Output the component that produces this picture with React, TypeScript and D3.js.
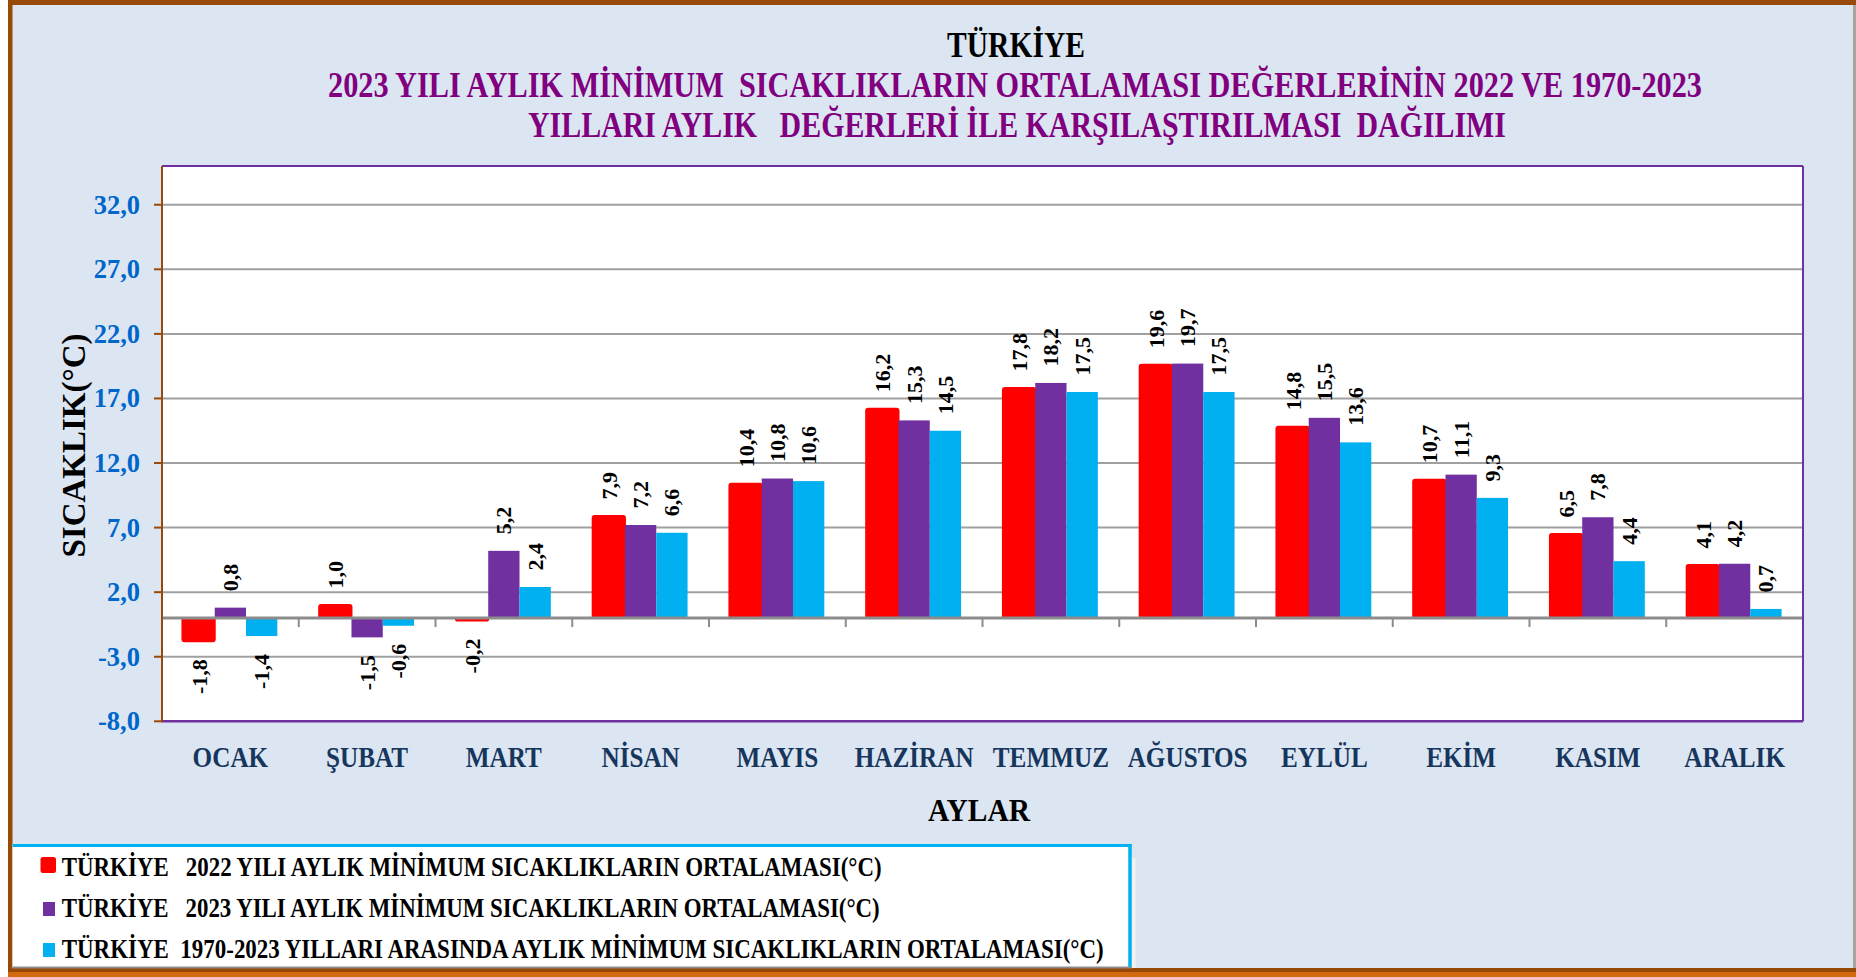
import React from "react";
import * as d3 from "d3";

const months = ["OCAK", "ŞUBAT", "MART", "NİSAN", "MAYIS", "HAZİRAN", "TEMMUZ", "AĞUSTOS", "EYLÜL", "EKİM", "KASIM", "ARALIK"];
const min2022 = [-1.8, 1.0, -0.2, 7.9, 10.4, 16.2, 17.8, 19.6, 14.8, 10.7, 6.5, 4.1];
const min2023 = [0.8, -1.5, 5.2, 7.2, 10.8, 15.3, 18.2, 19.7, 15.5, 11.1, 7.8, 4.2];
const min1970 = [-1.4, -0.6, 2.4, 6.6, 10.6, 14.5, 17.5, 17.5, 13.6, 9.3, 4.4, 0.7];
const yTicks = [-8, -3, 2, 7, 12, 17, 22, 27, 32];
const seriesKeys = ["s2022", "s2023", "s1970"];
const seriesColors = ["#FF0000", "#7030A0", "#00B0F0"];
const legendLabels = [
  "TÜRKİYE   2022 YILI AYLIK MİNİMUM SICAKLIKLARIN ORTALAMASI(°C)",
  "TÜRKİYE   2023 YILI AYLIK MİNİMUM SICAKLIKLARIN ORTALAMASI(°C)",
  "TÜRKİYE  1970-2023 YILLARI ARASINDA AYLIK MİNİMUM SICAKLIKLARIN ORTALAMASI(°C)",
];
const titleLines = [
  "TÜRKİYE",
  "2023 YILI AYLIK MİNİMUM  SICAKLIKLARIN ORTALAMASI DEĞERLERİNİN 2022 VE 1970-2023",
  "YILLARI AYLIK   DEĞERLERİ İLE KARŞILAŞTIRILMASI  DAĞILIMI",
];

const W = 1856;
const H = 977;
const font = "'Liberation Serif', 'Times New Roman', serif";
const plot = { left: 162, right: 1803, top: 166, bottom: 721.3 };

const fmt = (v: number) => v.toFixed(1).replace(".", ",");

export default function App() {
  const series = [min2022, min2023, min1970];
  const x0 = d3.scaleBand<string>().domain(months).range([plot.left, plot.right]);
  const x1 = d3.scaleBand<string>().domain(seriesKeys).range([0, x0.bandwidth()]).paddingOuter(0.685);
  const y = d3.scaleLinear().domain([-8, 35]).range([plot.bottom, plot.top]);
  const y0 = y(0);
  const bounds = months.map((m) => x0(m) as number).concat([plot.right]);

  return (
    <div style={{ position: "absolute", left: 0, top: 0 }}>
      <svg width={W} height={H} style={{ display: "block", fontFamily: font }}>
        <rect x={0} y={0} width={W} height={H} fill="#ffffff" />
        <rect x={8} y={0} width={W - 8} height={H} fill="#984807" />
        <rect x={8} y={972} width={W - 8} height={5} fill="#D46A10" />
        <rect x={12.5} y={5} width={1841} height={963} fill="#DCE6F2" />
        <rect x={1853.5} y={5} width={2.5} height={963} fill="#A6A6A6" />

        {/* titles */}
        <text x={1016} y={56.7} textAnchor="middle" fontSize={35} fontWeight="bold" fill="#000"
          textLength={138} lengthAdjust="spacingAndGlyphs">{titleLines[0]}</text>
        <text x={1015} y={96.7} textAnchor="middle" fontSize={35} fontWeight="bold" fill="#800080"
          textLength={1374} lengthAdjust="spacingAndGlyphs" style={{ whiteSpace: "pre" }}>{titleLines[1]}</text>
        <text x={1017} y={137.3} textAnchor="middle" fontSize={35} fontWeight="bold" fill="#800080"
          textLength={978} lengthAdjust="spacingAndGlyphs" style={{ whiteSpace: "pre" }}>{titleLines[2]}</text>

        {/* plot area */}
        <rect x={plot.left} y={plot.top} width={plot.right - plot.left} height={plot.bottom - plot.top} fill="#fff" />
        {yTicks.filter((t) => t > -8).map((t) => (
          <line key={t} x1={plot.left} x2={plot.right} y1={y(t)} y2={y(t)} stroke="#A0A0A0" strokeWidth={2} />
        ))}

        {/* bars */}
        {months.map((m, i) => (
          <g key={m} transform={`translate(${x0(m)},0)`}>
            {series.map((s, j) => {
              const v = s[i];
              const bx = x1(seriesKeys[j]) as number;
              const top = Math.min(y(v), y0);
              const h = Math.abs(y(v) - y0);
              return j === 0 ? (
                <rect key={j} x={bx - 1} y={top} width={x1.bandwidth() + 1} height={h} rx={2}
                  fill={seriesColors[j]} stroke={seriesColors[j]} strokeWidth={2} />
              ) : (
                <rect key={j} x={bx} y={top} width={x1.bandwidth()} height={h} fill={seriesColors[j]} />
              );
            })}
          </g>
        ))}

        {/* zero axis + category ticks */}
        <line x1={plot.left} x2={plot.right} y1={y0} y2={y0} stroke="#8C8C8C" strokeWidth={3} />
        {bounds.map((bx, i) => (
          <line key={i} x1={bx} x2={bx} y1={y0} y2={y0 + 9} stroke="#8C8C8C" strokeWidth={2} />
        ))}

        {/* value labels */}
        {months.map((m, i) =>
          series.map((s, j) => {
            const v = s[i];
            const cx = (x0(m) as number) + (x1(seriesKeys[j]) as number) + x1.bandwidth() / 2;
            const pos = v >= 0;
            const ly = pos ? y(v) - 16.5 : y(v) + 18;
            return (
              <text key={`${m}-${j}`} transform={`translate(${cx + 7.5},${ly}) rotate(-90)`}
                textAnchor={pos ? "start" : "end"} fontSize={22} fontWeight="bold" fill="#000">
                {fmt(v)}
              </text>
            );
          })
        )}

        {/* plot border */}
        <line x1={plot.left} x2={plot.right} y1={plot.top} y2={plot.top} stroke="#7030A0" strokeWidth={2} />
        <line x1={plot.right} x2={plot.right} y1={plot.top} y2={plot.bottom} stroke="#7030A0" strokeWidth={2} />
        <line x1={plot.left} x2={plot.right} y1={plot.bottom} y2={plot.bottom} stroke="#7030A0" strokeWidth={2.5} />
        <line x1={plot.left} x2={plot.left} y1={plot.top} y2={plot.bottom + 1} stroke="#984807" strokeWidth={2} />

        {/* y axis ticks + labels */}
        {yTicks.map((t) => (
          <g key={t}>
            <line x1={154} x2={plot.left} y1={y(t)} y2={y(t)} stroke="#984807" strokeWidth={2} />
            <text x={140} y={y(t) + 9} textAnchor="end" fontSize={26.5} fontWeight="bold" fill="#0066CC">
              {fmt(t)}
            </text>
          </g>
        ))}
        <text transform="translate(85,445.5) rotate(-90)" textAnchor="middle" fontSize={33} fontWeight="bold" fill="#000">
          SICAKLIK(°C)
        </text>

        {/* x labels */}
        {months.map((m) => (
          <text key={m} transform={`translate(${(x0(m) as number) + x0.bandwidth() / 2},766.7) scale(0.84,1)`}
            textAnchor="middle" fontSize={30} fontWeight="bold" fill="#17365D">
            {m}
          </text>
        ))}
        <text x={979} y={821} textAnchor="middle" fontSize={32} fontWeight="bold" fill="#000"
          textLength={102} lengthAdjust="spacingAndGlyphs">AYLAR</text>

        {/* legend */}
        <rect x={12.5} y={844} width={1117.5} height={124} fill="#fff" />
        <rect x={1131.5} y={858} width={4} height={110} fill="#F2F2F2" />
        <line x1={12.5} x2={1131.5} y1={845.5} y2={845.5} stroke="#00B0F0" strokeWidth={3} />
        <line x1={1130} x2={1130} y1={844} y2={968} stroke="#00B0F0" strokeWidth={3.5} />
        <line x1={12.5} x2={1131.5} y1={967.5} y2={967.5} stroke="#8C8C8C" strokeWidth={2} />
        {legendLabels.map((lab, i) => {
          const base = [876, 917, 958][i];
          const widths = [820, 818, 1042];
          return (
            <g key={lab}>
              {i === 0 ? (
                <rect x={40.5} y={base - 19} width={15.5} height={16} rx={2.5} fill={seriesColors[i]} />
              ) : (
                <rect x={43} y={base - 15} width={12} height={14} fill={seriesColors[i]} />
              )}
              <text x={61.7} y={base} fontSize={27} fontWeight="bold" fill="#000" textLength={widths[i]}
                lengthAdjust="spacingAndGlyphs" style={{ whiteSpace: "pre" }}>
                {lab}
              </text>
            </g>
          );
        })}
      </svg>
    </div>
  );
}
